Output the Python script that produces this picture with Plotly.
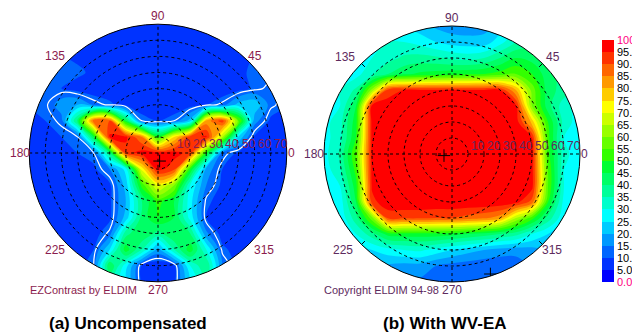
import numpy as np
import plotly.graph_objects as go

# ---------------- data ----------------
grid_x = [-80, -70, -60, -50, -40, -30, -20, -10, 0, 10, 20, 30, 40, 50, 60, 70, 80]
grid_y = [80, 70, 60, 50, 40, 30, 20, 10, 0, -10, -20, -30, -40, -50, -60, -70, -80]

# (a) Uncompensated: contrast read on a 10-degree grid (rows: y=80 ... -80)
contrast_uncomp = [
    [10, 10, 9, 8, 7, 7, 7, 7, 7, 7, 7, 7, 7, 8, 9, 10, 10],
    [10, 10, 9, 8, 7, 7, 7, 7, 7, 7, 7, 7, 7, 8, 9, 10, 10],
    [10, 10, 10, 9, 7, 7, 7, 7, 7, 7, 7, 7, 7, 9, 10, 10, 10],
    [11, 11, 11, 11, 9, 7, 7, 7, 7, 7, 7, 7, 7, 9, 11, 11, 11],
    [10, 12, 10, 8, 7, 7, 7, 7, 7, 7, 7, 7, 7, 8, 11, 13, 10],
    [10, 11, 18, 20, 14, 11, 8, 7, 7, 7, 8, 10, 13, 22, 24, 13, 10],
    [8, 10, 13, 42, 90, 90, 45, 12, 10, 12, 22, 82, 93, 58, 17, 9, 8],
    [8, 8, 10, 12, 45, 96, 96, 85, 50, 75, 93, 96, 65, 24, 9, 8, 8],
    [8, 8, 8, 10, 12, 40, 93, 97, 97, 97, 93, 50, 14, 9, 8, 8, 8],
    [8, 8, 8, 8, 9, 15, 27, 72, 97, 92, 50, 18, 10, 8, 8, 8, 8],
    [8, 8, 8, 8, 8, 9, 22, 52, 72, 60, 30, 15, 9, 8, 8, 8, 8],
    [8, 8, 8, 8, 8, 9, 20, 40, 52, 45, 27, 11, 8, 8, 8, 8, 8],
    [8, 8, 8, 8, 8, 9, 22, 42, 50, 45, 28, 10, 8, 8, 8, 8, 8],
    [8, 8, 8, 8, 8, 13, 38, 45, 38, 45, 40, 16, 8, 8, 8, 8, 8],
    [8, 8, 8, 8, 10, 25, 48, 35, 18, 35, 48, 30, 11, 8, 8, 8, 8],
    [8, 8, 8, 8, 12, 45, 27, 9, 7, 9, 30, 40, 15, 8, 8, 8, 8],
    [8, 8, 8, 8, 10, 35, 25, 9, 7, 9, 25, 35, 12, 8, 8, 8, 8],
]

# (b) With WV-EA
contrast_wvea = [
    [28, 28, 28, 28, 27, 25, 22, 19, 17, 17, 18, 22, 28, 35, 38, 38, 38],
    [30, 30, 30, 30, 30, 30, 28, 25, 23, 22, 22, 28, 35, 38, 38, 38, 38],
    [30, 30, 30, 30, 33, 36, 37, 36, 34, 33, 35, 40, 45, 43, 40, 40, 40],
    [28, 28, 28, 34, 40, 44, 46, 47, 48, 49, 50, 52, 55, 50, 42, 38, 38],
    [28, 30, 36, 62, 92, 95.2, 95.2, 95.2, 95.2, 95.2, 95.2, 95, 80, 58, 42, 38, 35],
    [28, 30, 45, 97, 98, 98, 98, 98, 98, 98, 98, 98, 96, 60, 42, 32, 28],
    [28, 33, 48, 97, 98, 98, 98, 98, 98, 98, 98, 98, 98, 78, 50, 33, 27],
    [28, 33, 50, 97, 98, 98, 98, 98, 98, 98, 98, 98, 98, 95, 52, 30, 26],
    [28, 36, 55, 97, 98, 98, 98, 98, 98, 98, 98, 98, 98, 97, 52, 32, 26],
    [27, 34, 52, 97, 98, 98, 98, 98, 98, 98, 98, 98, 98, 97, 55, 30, 27],
    [26, 30, 48, 96, 98, 98, 98, 98, 98, 98, 98, 98, 98, 97, 55, 30, 26],
    [26, 27, 45, 93, 99, 99, 99, 99, 99, 99, 99, 99, 97, 88, 50, 28, 26],
    [24, 26, 38, 58, 91, 91, 91, 90, 90, 88, 86, 82, 65, 52, 38, 26, 24],
    [22, 24, 30, 38, 47, 48, 48, 48, 47, 45, 43, 40, 37, 30, 25, 22, 22],
    [22, 22, 22, 25, 28, 30, 31, 28, 25, 22, 20, 18, 17, 18, 20, 20, 20],
    [20, 20, 20, 20, 19, 18, 18, 15, 13, 12, 11, 11, 12, 15, 15, 15, 15],
    [18, 18, 18, 18, 16, 15, 14, 13, 12, 11, 10, 10, 11, 13, 14, 14, 14],
]

band_colors = ["#0000FF", "#0033FF", "#0066FF", "#0099FF", "#00CCFF",
               "#00FFFF", "#00FFCC", "#00FF99", "#00FF66", "#00FF33",
               "#33FF00", "#66FF00", "#99FF00", "#CCFF00", "#FFFF00",
               "#FFCC00", "#FF9900", "#FF6600", "#FF3300", "#FF0000"]
band_mid = [2.5, 7.5, 12.5, 17.5, 22.5, 27.5, 32.5, 37.5, 42.5, 47.5,
            52.5, 57.5, 62.5, 67.5, 72.5, 77.5, 82.5, 87.5, 92.5, 97.5]
band_edges = [0, 5, 10, 15, 20, 25, 30, 35, 40, 45, 50, 55, 60, 65, 70, 75, 80, 85, 90, 95, 100]
band_labels = ["0.0", "5.0", "10.0", "15.0", "20.0", "25.0", "30.0", "35.0", "40.0", "45.0",
               "50.0", "55.0", "60.0", "65.0", "70.0", "75.0", "80.0", "85.0", "90.0", "95.0", "100.0"]

ring_values = [10, 20, 30, 40, 50, 60, 70]
ring_labels = ["10", "20", "30", "40", "50", "60", "70"]
angle_labels = ["0", "45", "90", "135", "180", "225", "270", "315"]
tick_angles = [45, 135, 225, 315]

cross_left_x, cross_left_y = [1], [-5]
cross_right_x, cross_right_y = [-5, 24], [-1, -75]

# ---------------- layout helpers ----------------
FONT = "Arial, Liberation Sans, sans-serif"
LEFT_TXT = "#8B1C4E"
RIGHT_TXT = "#5E2A5E"
RMAX = 80
W, H = 640, 336
OFF = 8          # the page places the plot 8 px from the window's top-left
XR, YR = 92, 90  # half-ranges of the polar panels (degrees)


def xdom(cx, s):
    return [(cx - OFF - XR * s) / W, (cx - OFF + XR * s) / W]


def ydom(cy, s):
    return [1 - (cy - OFF + YR * s) / H, 1 - (cy - OFF - YR * s) / H]


colorscale = [[k / 19, c] for k, c in enumerate(band_colors)]

fig = go.Figure()


def add_plot(z, xa, ya):
    fig.add_trace(go.Contour(
        x=grid_x, y=grid_y, z=z, xaxis=xa, yaxis=ya,
        colorscale=colorscale, showscale=False, hoverinfo="skip",
        contours=dict(start=5, end=95, size=5, coloring="fill"),
        line=dict(width=0, smoothing=1.0)))


add_plot(contrast_uncomp, "x", "y")
fig.add_trace(go.Contour(
    x=grid_x, y=grid_y, z=contrast_uncomp, xaxis="x", yaxis="y",
    showscale=False, hoverinfo="skip",
    contours=dict(start=12, end=12, size=1, coloring="none"),
    line=dict(width=1.2, color="white", smoothing=1.0)))
add_plot(contrast_wvea, "x2", "y2")

# colour bar built as a one-column heatmap
fig.add_trace(go.Heatmap(
    x=[0], y=band_mid, z=[[v] for v in band_mid], xaxis="x3", yaxis="y3",
    colorscale=colorscale, zmin=2.5, zmax=97.5, showscale=False, hoverinfo="skip"))

for cx, cy, xa, ya in [(cross_left_x, cross_left_y, "x", "y"),
                       (cross_right_x, cross_right_y, "x2", "y2")]:
    fig.add_trace(go.Scatter(
        x=cx, y=cy, xaxis=xa, yaxis=ya, mode="markers", hoverinfo="skip",
        marker=dict(symbol="cross-thin", size=9, line=dict(width=1, color="black"))))


def mask_path(R=RMAX, n=240):
    th = np.linspace(0, 2 * np.pi, n, endpoint=False)
    pts = " L".join(f"{R*np.cos(t):.3f},{R*np.sin(t):.3f}" for t in th)
    return (f"M{-XR},{-YR} L{XR},{-YR} L{XR},{YR} "
            f"L{-XR},{YR} Z M{pts} Z")


shapes = []
for xr, yr in [("x", "y"), ("x2", "y2")]:
    shapes.append(dict(type="path", path=mask_path(), xref=xr, yref=yr,
                       fillcolor="white", line=dict(width=0), fillrule="evenodd"))
    for r in ring_values:
        shapes.append(dict(type="circle", xref=xr, yref=yr, x0=-r, x1=r, y0=-r, y1=r,
                           line=dict(color="black", width=1, dash="3px,3px")))
    shapes.append(dict(type="line", xref=xr, yref=yr, x0=-RMAX, x1=RMAX, y0=0, y1=0,
                       line=dict(color="black", width=1, dash="3px,3px")))
    shapes.append(dict(type="line", xref=xr, yref=yr, x0=0, x1=0, y0=-RMAX, y1=RMAX,
                       line=dict(color="black", width=1, dash="3px,3px")))
    shapes.append(dict(type="circle", xref=xr, yref=yr, x0=-RMAX, x1=RMAX,
                       y0=-RMAX, y1=RMAX, line=dict(color="black", width=1)))
# small radial ticks on the right panel's rim
for a in tick_angles:
    c, s = np.cos(np.radians(a)), np.sin(np.radians(a))
    shapes.append(dict(type="line", xref="x2", yref="y2", x0=77 * c, y0=77 * s,
                       x1=RMAX * c, y1=RMAX * s, line=dict(color="black", width=1)))

annotations = []


def txt(x, y, s, xr, yr, color, size=12, xanchor="center", yanchor="middle", **kw):
    annotations.append(dict(x=x, y=y, text=s, xref=xr, yref=yr, showarrow=False,
                            xanchor=xanchor, yanchor=yanchor,
                            font=dict(family=FONT, size=size, color=color), **kw))


# angle labels
left_pos = {"0": (83, 0), "45": (60, 60), "90": (0, 85), "135": (-64, 60),
            "180": (-86, 0), "225": (-64, -60), "270": (0, -85), "315": (66, -60)}
right_pos = {"0": (83, 0), "45": (63, 60.5), "90": (0, 85), "135": (-67, 60.5),
             "180": (-86.5, 0), "225": (-68, -60), "270": (0, -85), "315": (62.5, -60)}
for lab in angle_labels:
    txt(*left_pos[lab], lab, "x", "y", LEFT_TXT)
    txt(*right_pos[lab], lab, "x2", "y2", RIGHT_TXT)

# ring labels
for r, lab in zip(ring_values, ring_labels):
    txt(r, 5.5, lab, "x", "y", LEFT_TXT, xanchor="left", xshift=1)
    txt(r, 5, lab, "x2", "y2", RIGHT_TXT, xanchor="left", xshift=1)

txt(-81, -85, "EZContrast by ELDIM", "x", "y", LEFT_TXT, size=11, xanchor="left")
txt(-81, -85, "Copyright ELDIM 94-98", "x2", "y2", RIGHT_TXT, size=11, xanchor="left")

# colour bar labels
for v, lab in zip(band_edges, band_labels):
    col = "#FF0080" if lab in ("0.0", "100.0") else "black"
    txt(0.5, v, lab, "x3", "y3", col, size=11, xanchor="left", xshift=1)

# captions
for cxp, cap in [(128, "<b>(a) Uncompensated</b>"), (445, "<b>(b) With WV-EA</b>")]:
    annotations.append(dict(x=(cxp - OFF) / W, y=1 - (323 - OFF) / H,
                            xref="paper", yref="paper", text=cap, showarrow=False,
                            xanchor="center", yanchor="middle",
                            font=dict(family=FONT, size=17, color="black")))

hidden = dict(visible=False, showgrid=False, zeroline=False, fixedrange=True)
fig.update_layout(
    width=W, height=H, margin=dict(l=0, r=0, t=0, b=0),
    paper_bgcolor="white", plot_bgcolor="rgba(0,0,0,0)", showlegend=False,
    xaxis=dict(domain=xdom(158, 1.61), range=[-XR, XR], **hidden),
    yaxis=dict(domain=ydom(153, 1.61), range=[-YR, YR], **hidden),
    xaxis2=dict(domain=xdom(452, 1.6), range=[-XR, XR], **hidden),
    yaxis2=dict(domain=ydom(154, 1.6), range=[-YR, YR], **hidden),
    xaxis3=dict(domain=[(602 - OFF) / W, (614 - OFF) / W], range=[-0.5, 0.5], **hidden),
    yaxis3=dict(domain=[1 - (282 - OFF) / H, 1 - (40 - OFF) / H], range=[0, 100], **hidden),
    shapes=shapes, annotations=annotations,
)

fig.write_html("out.html")
